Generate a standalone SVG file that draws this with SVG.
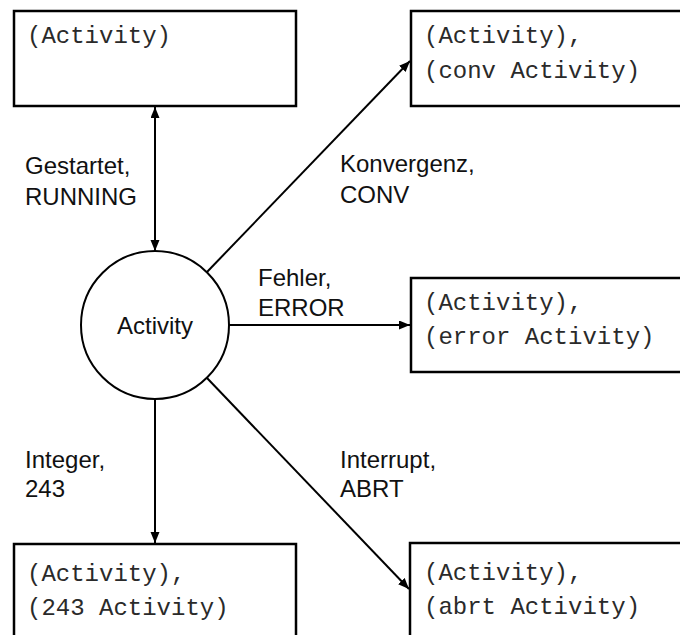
<svg xmlns="http://www.w3.org/2000/svg" width="680" height="635" viewBox="0 0 680 635">
<style>
.box{fill:#fff;stroke:#000;stroke-width:2.5}
.mono{font-family:"Liberation Mono","Courier New",monospace;font-size:24px;fill:#2a2a2a}
.lbl{font-family:"Liberation Sans",Arial,sans-serif;font-size:24px;fill:#111}
.edge{stroke:#000;stroke-width:2;fill:none}
</style>
<defs>
<marker id="ah" markerUnits="userSpaceOnUse" markerWidth="12" markerHeight="10" refX="11" refY="4.5" orient="auto">
<path d="M0,0 L11,4.5 L0,9 z" fill="#000"/>
</marker>
<marker id="ahs" markerUnits="userSpaceOnUse" markerWidth="12" markerHeight="10" refX="11" refY="4.5" orient="auto-start-reverse">
<path d="M0,0 L11,4.5 L0,9 z" fill="#000"/>
</marker>
</defs>
<rect width="680" height="635" fill="#fff"/>
<g id="connectors">
<line class="edge" x1="155" y1="107" x2="155" y2="251" marker-start="url(#ahs)" marker-end="url(#ah)"/>
<line class="edge" x1="207" y1="272" x2="410" y2="61" marker-end="url(#ah)"/>
<line class="edge" x1="229" y1="325" x2="410" y2="325" marker-end="url(#ah)"/>
<line class="edge" x1="207" y1="378" x2="409" y2="589" marker-end="url(#ah)"/>
<line class="edge" x1="155" y1="399" x2="155" y2="543" marker-end="url(#ah)"/>
<text class="lbl" x="25" y="174">Gestartet,</text>
<text class="lbl" x="25" y="205">RUNNING</text>
<text class="lbl" x="340" y="172">Konvergenz,</text>
<text class="lbl" x="340" y="203">CONV</text>
<text class="lbl" x="258" y="286">Fehler,</text>
<text class="lbl" x="258" y="316">ERROR</text>
<text class="lbl" x="25" y="468">Integer,</text>
<text class="lbl" x="25" y="497">243</text>
<text class="lbl" x="340" y="468">Interrupt,</text>
<text class="lbl" x="340" y="497">ABRT</text>
</g>
<g id="start">
<rect class="box" x="14" y="11" width="282" height="95"/>
<text class="mono" x="27" y="43">(Activity)</text>
</g>
<g id="conv">
<rect class="box" x="411" y="11" width="290" height="95"/>
<text class="mono" x="424" y="43">(Activity),</text>
<text class="mono" x="424" y="78">(conv Activity)</text>
</g>
<g id="error">
<rect class="box" x="411" y="278" width="290" height="94"/>
<text class="mono" x="424" y="310">(Activity),</text>
<text class="mono" x="424" y="344">(error Activity)</text>
</g>
<g id="activity">
<circle cx="155" cy="325" r="74" fill="#fff" stroke="#000" stroke-width="2"/>
<text class="lbl" x="155" y="334" text-anchor="middle">Activity</text>
</g>
<g id="int243">
<rect class="box" x="14" y="544" width="282" height="100"/>
<text class="mono" x="27" y="581">(Activity),</text>
<text class="mono" x="27" y="615">(243 Activity)</text>
</g>
<g id="abrt">
<rect class="box" x="410" y="543" width="290" height="100"/>
<text class="mono" x="424" y="580">(Activity),</text>
<text class="mono" x="424" y="614">(abrt Activity)</text>
</g>
</svg>
